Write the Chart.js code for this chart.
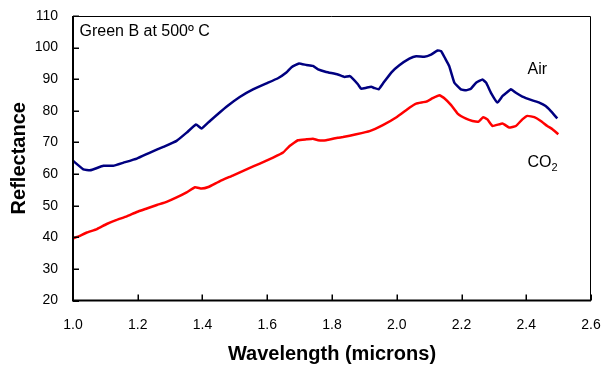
<!DOCTYPE html>
<html>
<head>
<meta charset="utf-8">
<script src="https://cdn.jsdelivr.net/npm/chart.js@4.4.1/dist/chart.umd.min.js"></script>
<style>
  html, body { margin: 0; padding: 0; background: #fff; }
  #wrap { width: 605px; height: 366px; position: relative; }
</style>
</head>
<body>
<div id="wrap"><canvas id="c"></canvas></div>
<script>
// ---- Data ----
const airWavelength = [1.000,1.032,1.053,1.094,1.124,1.156,1.197,1.238,1.279,1.320,1.351,1.380,1.397,1.423,1.474,1.515,1.556,1.598,1.633,1.659,1.675,1.698,1.721,1.741,1.757,1.782,1.818,1.839,1.854,1.864,1.880,1.890,1.906,1.921,1.931,1.944,1.957,1.983,2.008,2.039,2.060,2.085,2.106,2.126,2.137,2.150,2.162,2.178,2.198,2.214,2.229,2.245,2.265,2.276,2.291,2.311,2.327,2.353,2.368,2.388,2.419,2.440,2.460,2.476,2.496];
const airReflectance = [64.2,61.5,61.2,62.6,62.6,63.6,64.9,66.8,68.6,70.5,73.1,75.7,74.4,76.8,81.3,84.4,86.8,88.7,90.3,92.1,93.8,95.0,94.5,94.2,93.1,92.3,91.5,90.7,91.0,90.2,88.4,87.0,87.3,87.6,87.2,86.8,88.6,92.1,94.4,96.5,97.3,97.1,97.8,99.1,98.9,96.5,94.2,88.9,86.8,86.5,87.0,88.9,89.9,88.9,85.7,82.6,84.7,86.8,85.7,84.5,83.3,82.6,81.5,79.9,77.6];

const co2Wavelength = [1.000,1.017,1.043,1.074,1.104,1.135,1.166,1.197,1.228,1.259,1.289,1.320,1.351,1.377,1.397,1.418,1.454,1.495,1.536,1.577,1.618,1.649,1.669,1.695,1.721,1.741,1.757,1.782,1.818,1.834,1.875,1.916,1.957,1.998,2.039,2.060,2.091,2.111,2.132,2.147,2.168,2.188,2.214,2.234,2.253,2.267,2.280,2.296,2.327,2.347,2.368,2.388,2.404,2.425,2.445,2.465,2.481,2.499];
const co2Reflectance = [39.6,40.3,41.5,42.6,44.2,45.5,46.6,48.0,49.1,50.2,51.2,52.6,54.2,55.8,55.4,55.9,57.8,59.6,61.5,63.3,65.2,66.8,68.9,70.7,71.0,71.2,70.7,70.7,71.5,71.7,72.6,73.6,75.5,77.9,81.0,82.3,82.9,84.0,84.9,84.0,81.8,79.1,77.5,76.8,76.6,78.0,77.3,75.2,76.0,74.7,75.2,77.3,78.4,78.0,76.8,75.2,74.2,72.6];

const xTicks = [1.0,1.2,1.4,1.6,1.8,2.0,2.2,2.4,2.6];
const yTicks = [20,30,40,50,60,70,80,90,100,110];

const seriesNames = ['Air', 'CO2'];
const chartTitle = 'Green B at 500\u00BA C';
const xTitle = 'Wavelength (microns)';
const yTitle = 'Reflectance';

// ---- Build datasets ----
const toPts = (xs, ys) => xs.map((x, i) => ({x: x, y: ys[i]}));

const FONT = '"Liberation Sans", Arial, sans-serif';

const decoPlugin = {
  id: 'deco',
  afterDatasetsDraw(chart) {
    const {ctx, chartArea: a, scales: {x, y}} = chart;
    ctx.save();
    ctx.strokeStyle = '#000';
    // top & right frame (thin)
    ctx.lineWidth = 1;
    ctx.beginPath();
    ctx.moveTo(a.left, a.top + 0.5);
    ctx.lineTo(a.right - 0.5, a.top + 0.5);
    ctx.lineTo(a.right - 0.5, a.bottom);
    ctx.stroke();
    // left & bottom axes (thick)
    ctx.lineWidth = 2;
    ctx.beginPath();
    ctx.moveTo(a.left, a.top);
    ctx.lineTo(a.left, a.bottom);
    ctx.lineTo(a.right, a.bottom);
    ctx.stroke();
    // inward ticks
    ctx.lineWidth = 1.5;
    ctx.beginPath();
    yTicks.forEach(v => {
      const py = Math.round(y.getPixelForValue(v)) + 0.25;
      ctx.moveTo(a.left, py);
      ctx.lineTo(a.left + 6, py);
    });
    xTicks.forEach(v => {
      const px = Math.round(x.getPixelForValue(v)) + 0.25;
      ctx.moveTo(px, a.bottom);
      ctx.lineTo(px, a.bottom - 6);
    });
    ctx.stroke();

    // text annotations
    ctx.fillStyle = '#000';
    ctx.textBaseline = 'middle';
    ctx.textAlign = 'left';
    ctx.font = '16px ' + FONT;
    ctx.fillText(chartTitle, x.getPixelForValue(1.02), y.getPixelForValue(105.2));
    ctx.fillText(seriesNames[0], x.getPixelForValue(2.404), y.getPixelForValue(93.1));
    const cx = x.getPixelForValue(2.404), cy = y.getPixelForValue(63.6);
    ctx.fillText('CO', cx, cy);
    const w = ctx.measureText('CO').width;
    ctx.font = '11px ' + FONT;
    ctx.fillText('2', cx + w, cy + 5);
    ctx.restore();
  }
};

new Chart(document.getElementById('c'), {
  type: 'line',
  data: {
    datasets: [
      { label: seriesNames[0], data: toPts(airWavelength, airReflectance), borderColor: '#000080', borderWidth: 2.5, pointRadius: 0, tension: 0.1, fill: false },
      { label: seriesNames[1], data: toPts(co2Wavelength, co2Reflectance), borderColor: '#FF0000', borderWidth: 2.5, pointRadius: 0, tension: 0.1, fill: false }
    ]
  },
  options: {
    responsive: true,
    maintainAspectRatio: false,
    animation: false,
    layout: { padding: { top: 16, right: 14, left: 0, bottom: 0 } },
    plugins: { legend: { display: false }, tooltip: { enabled: false } },
    scales: {
      x: {
        type: 'linear', min: 1.0, max: 2.6,
        afterBuildTicks: s => { s.ticks = xTicks.map(v => ({value: v})); },
        ticks: { callback: v => Number(v).toFixed(1), color: '#000', font: { family: FONT, size: 14 }, padding: 16, maxRotation: 0, autoSkip: false },
        grid: { display: false, drawTicks: false },
        border: { display: false },
        title: { display: true, text: xTitle, color: '#000', font: { family: FONT, size: 20, weight: 'bold' }, padding: { top: 0, bottom: 0 } },
        afterFit: s => { s.height = 65.5; s.paddingLeft = 0; s.paddingRight = 0; }
      },
      y: {
        type: 'linear', min: 20, max: 110,
        afterBuildTicks: s => { s.ticks = yTicks.map(v => ({value: v})); },
        ticks: { color: '#000', font: { family: FONT, size: 14 }, padding: 15, autoSkip: false },
        grid: { display: false, drawTicks: false },
        border: { display: false },
        title: { display: true, text: yTitle, color: '#000', font: { family: FONT, size: 20, weight: 'bold' }, padding: { top: 7, bottom: 0 } },
        afterFit: s => { s.width = 73; s.paddingTop = 0; s.paddingBottom = 0; }
      }
    }
  },
  plugins: [decoPlugin]
});
</script>
</body>
</html>
